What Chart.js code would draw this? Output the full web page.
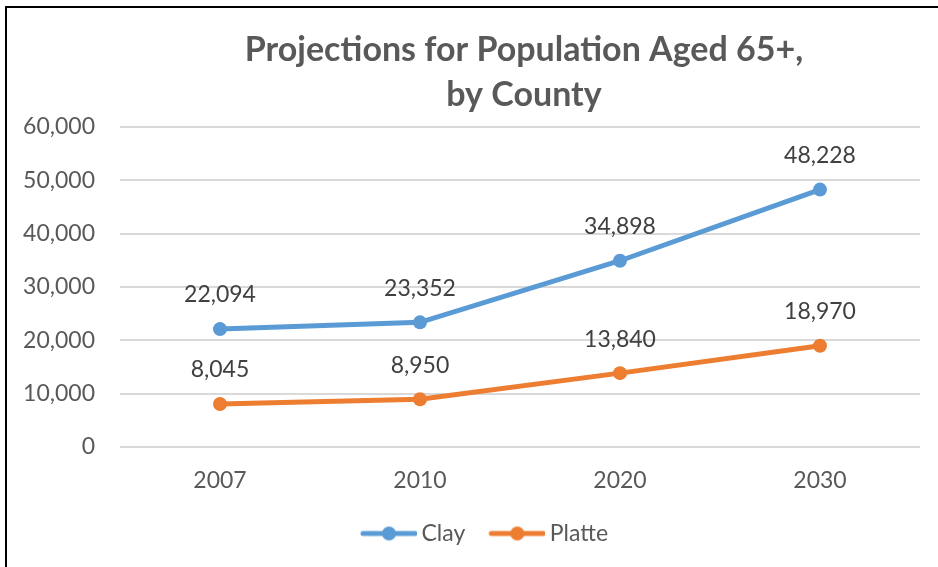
<!DOCTYPE html>
<html>
<head>
<meta charset="utf-8">
<script src="https://cdn.jsdelivr.net/npm/chart.js@4.4.1/dist/chart.umd.min.js"></script>
<style>
  html, body { margin: 0; padding: 0; background: #fff; overflow: hidden; }
  #wrap { position: relative; width: 938px; height: 567px; }
  #frame { position: absolute; left: 5px; top: 6px; width: 1000px; height: 700px;
           border-left: 2px solid #000; border-top: 2px solid #000; box-sizing: border-box; }
  canvas { position: absolute; left: 0; top: 0; }
</style>
</head>
<body>
<div id="wrap">
  <div id="frame"></div>
  <canvas id="c" width="938" height="567"></canvas>
</div>
<script>
const titleLines = ['Projections for Population Aged 65+,', 'by County'];
const years = ['2007', '2010', '2020', '2030'];
const clayValues = [22094, 23352, 34898, 48228];
const platteValues = [8045, 8950, 13840, 18970];
const seriesNames = ['Clay', 'Platte'];
const yTicks = [0, 10000, 20000, 30000, 40000, 50000, 60000];

const blue = '#5B9BD5';
const orange = '#ED7D31';
const FONT = 'Lato, Carlito, Calibri, sans-serif';

function legendMarker(color) {
  const c = document.createElement('canvas');
  c.width = 72; c.height = 16;
  const g = c.getContext('2d');
  g.strokeStyle = color; g.lineWidth = 5; g.lineCap = 'round';
  g.beginPath(); g.moveTo(18, 8); g.lineTo(70, 8); g.stroke();
  g.fillStyle = color;
  g.beginPath(); g.arc(44, 8, 7, 0, Math.PI * 2); g.fill();
  return c;
}
const markers = [legendMarker(blue), legendMarker(orange)];

const fmt = v => v.toLocaleString('en-US');

const labelPlugin = {
  id: 'pointLabels',
  afterLayout(chart) {
    const ca = chart.chartArea;
    if (chart.titleBlock) {
      chart.titleBlock.left = ca.left + 4;
      chart.titleBlock.right = ca.right + 4;
    }
    if (chart.legend) {
      chart.legend.left += 20;
      chart.legend.right += 20;
    }
  },
  afterDatasetsDraw(chart) {
    const ctx = chart.ctx;
    ctx.save();
    ctx.font = '23px ' + FONT;
    ctx.fillStyle = '#404040';
    ctx.textAlign = 'center';
    ctx.textBaseline = 'middle';
    chart.data.datasets.forEach((ds, di) => {
      const meta = chart.getDatasetMeta(di);
      meta.data.forEach((pt, i) => {
        ctx.fillText(fmt(ds.data[i]), pt.x, pt.y - 34);
      });
    });
    ctx.restore();
  }
};

new Chart(document.getElementById('c'), {
  type: 'line',
  data: {
    labels: years,
    datasets: [
      { label: seriesNames[0], data: clayValues, borderColor: blue, backgroundColor: blue,
        borderWidth: 5, pointRadius: 7, pointHoverRadius: 7, pointBorderWidth: 0, tension: 0 },
      { label: seriesNames[1], data: platteValues, borderColor: orange, backgroundColor: orange,
        borderWidth: 5, pointRadius: 7, pointHoverRadius: 7, pointBorderWidth: 0, tension: 0 }
    ]
  },
  options: {
    responsive: false,
    animation: false,
    events: [],
    layout: { padding: { left: 0, right: 18, top: 0, bottom: 12 } },
    plugins: {
      title: {
        display: true,
        text: titleLines,
        color: '#595959',
        font: { family: FONT, size: 34, weight: 'bold', lineHeight: 1.32 },
        padding: { top: 28, bottom: 9 }
      },
      legend: {
        position: 'bottom',
        labels: {
          usePointStyle: true,
          pointStyleWidth: 58,
          boxHeight: 16,
          padding: 15,
          color: '#595959',
          font: { family: FONT, size: 23 },
          generateLabels(chart) {
            return chart.data.datasets.map((ds, i) => ({
              text: ds.label,
              fillStyle: ds.borderColor,
              strokeStyle: ds.borderColor,
              fontColor: '#595959',
              pointStyle: markers[i],
              lineWidth: 0,
              hidden: false,
              datasetIndex: i
            }));
          }
        }
      },
      tooltip: { enabled: false }
    },
    scales: {
      x: {
        offset: true,
        grid: { display: false, drawTicks: false },
        border: { display: false },
        ticks: { color: '#595959', font: { family: FONT, size: 23 }, padding: 20 },
        afterFit(scale) { scale.height = 60; }
      },
      y: {
        min: 0, max: 60000,
        afterBuildTicks(scale) { scale.ticks = yTicks.map(v => ({ value: v })); },
        grid: { color: '#D9D9D9', lineWidth: 2, drawTicks: false },
        border: { display: false },
        ticks: { color: '#595959', font: { family: FONT, size: 23 }, padding: 25,
                 callback: v => fmt(v) },
        afterFit(scale) { scale.width = 120; }
      }
    }
  },
  plugins: [labelPlugin]
});
</script>
</body>
</html>
